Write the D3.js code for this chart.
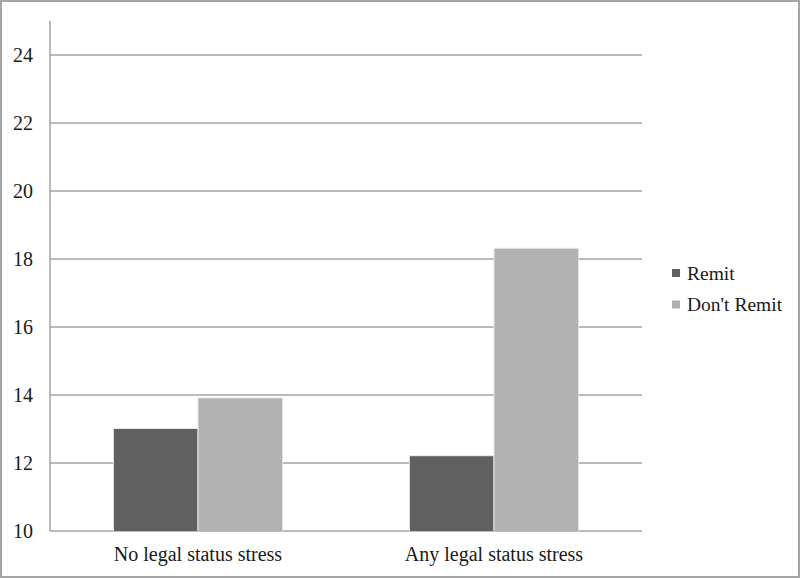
<!DOCTYPE html>
<html><head><meta charset="utf-8">
<script src="https://cdn.jsdelivr.net/npm/d3@7/dist/d3.min.js"></script>
<style>body{margin:0;background:#fff}svg{display:block}</style>
</head><body><svg id="c" width="800" height="578"></svg>
<script>
const categories = ["No legal status stress", "Any legal status stress"];
const seriesNames = ["Remit", "Don't Remit"];
const remit = [13.0, 12.2];
const dontRemit = [13.9, 18.3];
const yTicks = [10, 12, 14, 16, 18, 20, 22, 24];
const colors = ["#606060", "#b2b2b2"];

(function(){
const svg = d3.select("#c");
const font = "'Liberation Serif', serif";
svg.append("rect").attr("x",1).attr("y",1).attr("width",798).attr("height",576)
  .attr("fill","#fff").attr("stroke","#a6a6a6").attr("stroke-width",2);

const mLeft = 50, mRight = 642, mTop = 21, mBottom = 531;
const y = d3.scaleLinear().domain([10, 25]).range([mBottom, mTop]);
const x0 = d3.scaleBand().domain(categories).range([mLeft, mRight]).paddingInner(0.432).paddingOuter(0.216);
const x1 = d3.scaleBand().domain(seriesNames).range([0, x0.bandwidth()]).paddingInner(0.012);

svg.append("g").selectAll("line").data(yTicks).join("line")
  .attr("x1", mLeft).attr("x2", mRight).attr("y1", d=>y(d)).attr("y2", d=>y(d))
  .attr("stroke", "#a3a3a3").attr("stroke-width", 1.5);

const ya = svg.append("g").attr("transform", `translate(${mLeft},0)`)
  .call(d3.axisLeft(y).tickValues(yTicks).tickSize(0).tickPadding(17));
ya.select(".domain").attr("stroke","#a3a3a3").attr("stroke-width",1.5).attr("d", `M0,${mTop}V${mBottom}`);
ya.selectAll("text").attr("font-family", font).attr("font-size", 20).attr("fill","#1a1a1a");

const data = categories.map((c,i)=>({c, vals:[remit[i], dontRemit[i]]}));
const g = svg.append("g");
data.forEach(d=>{
  d.vals.forEach((v,j)=>{
    const s = seriesNames[j];
    g.append("rect")
      .attr("x", x0(d.c)+x1(s)-1).attr("y", y(v)-1)
      .attr("width", x1.bandwidth()+2).attr("height", y(10)-y(v)+1)
      .attr("fill", "#e6e6e6");
    g.append("rect")
      .attr("x", x0(d.c)+x1(s)).attr("y", y(v))
      .attr("width", x1.bandwidth()).attr("height", y(10)-y(v))
      .attr("fill", colors[j]);
  });
});

const xa = svg.append("g").attr("transform", `translate(0,${mBottom})`)
  .call(d3.axisBottom(x0).tickSize(0).tickPadding(16));
xa.select(".domain").remove();
xa.selectAll("text").attr("font-family", font).attr("font-size", 20).attr("fill","#1a1a1a");

const lg = svg.append("g").attr("transform","translate(672,0)");
seriesNames.forEach((s,i)=>{
  const yy = 273 + i*31.5;
  lg.append("rect").attr("x",0).attr("y",yy-4).attr("width",8).attr("height",8).attr("fill",colors[i]);
  lg.append("text").attr("x",15).attr("y",yy).attr("dy","0.35em")
    .attr("font-family",font).attr("font-size",19.5).attr("fill","#1a1a1a").text(s);
});
})();
</script></body></html>
